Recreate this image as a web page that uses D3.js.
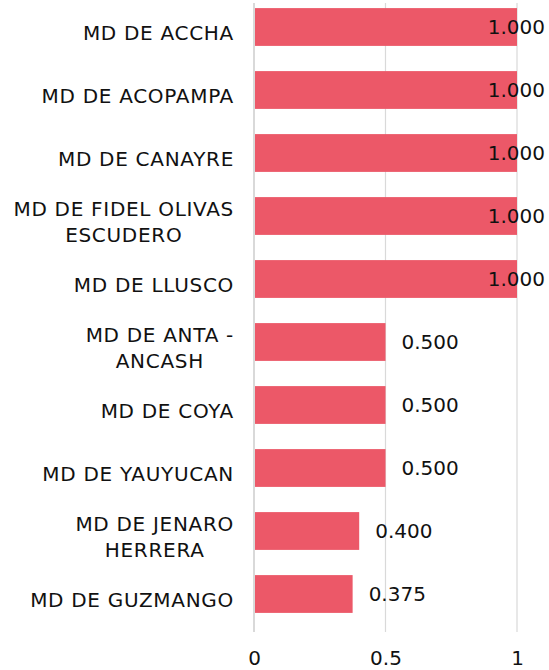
<!DOCTYPE html>
<html>
<head>
<meta charset="utf-8">
<script src="https://cdn.jsdelivr.net/npm/d3@7"></script>
<style>
  html, body { margin: 0; padding: 0; background: #fff; }
  svg { display: block; }
  text { font-family: "DejaVu Sans", "Noto Sans", sans-serif; fill: #111; }
</style>
</head>
<body>
<svg id="chart" width="549" height="670"></svg>
<script>
// Municipal districts and their scores
const categories = [
  "MD DE ACCHA",
  "MD DE ACOPAMPA",
  "MD DE CANAYRE",
  "MD DE FIDEL OLIVAS ESCUDERO",
  "MD DE LLUSCO",
  "MD DE ANTA - ANCASH",
  "MD DE COYA",
  "MD DE YAUYUCAN",
  "MD DE JENARO HERRERA",
  "MD DE GUZMANGO"
];
const values = [1.0, 1.0, 1.0, 1.0, 1.0, 0.5, 0.5, 0.5, 0.4, 0.375];
const tickValues = [0, 0.5, 1];

const W = 549, H = 670;
const svg = d3.select("#chart");

const x = d3.scaleLinear().domain([0, 1]).range([254, 517]);
const y = d3.scaleBand()
  .domain(categories)
  .range([-4.5, 625.5])
  .paddingInner(0.4)
  .paddingOuter(0.2);

const fontSize = 20;
const fontFamily = "'DejaVu Sans', 'Noto Sans', sans-serif";

// vertical gridlines
svg.append("g")
  .selectAll("line")
  .data(tickValues)
  .join("line")
  .attr("x1", d => x(d))
  .attr("x2", d => x(d))
  .attr("y1", 3)
  .attr("y2", 632)
  .attr("stroke", "#d9d9d9")
  .attr("stroke-width", d => d === 0 ? 2 : 1.2);

// bars
svg.append("g")
  .selectAll("rect")
  .data(categories)
  .join("rect")
  .attr("x", x(0) + 1)
  .attr("y", d => y(d))
  .attr("width", (d, i) => x(values[i]) - x(0) - 1)
  .attr("height", y.bandwidth())
  .attr("fill", "#ec5868");

// x axis tick labels
const xAxis = d3.axisBottom(x)
  .tickValues(tickValues)
  .tickFormat(d3.format("~g"))
  .tickSize(0)
  .tickPadding(0);
const gx = svg.append("g")
  .attr("transform", "translate(0,651)")
  .call(xAxis);
gx.select(".domain").remove();
gx.selectAll("text")
  .attr("dy", "0.71em")
  .style("font-family", fontFamily)
  .style("font-size", fontSize + "px")
  .attr("fill", "#111");

// category labels: wrapped to fit the left margin, lines centred,
// block aligned against the axis
const labelRight = 234;
const maxLabel = 230;
const lineH = 25.5;
const labels = svg.append("g")
  .selectAll("text")
  .data(categories)
  .join("text")
  .attr("text-anchor", "middle")
  .style("font-size", fontSize + "px")
  .style("letter-spacing", "0.7px");

labels.each(function(d) {
  const t = d3.select(this);
  const words = d.split(" ");
  const lines = [];
  let cur = [];
  const probe = t.append("tspan");
  const measure = s => { probe.text(s); return probe.node().getComputedTextLength(); };
  words.forEach(w => {
    const trial = cur.concat(w).join(" ");
    if (measure(trial) > maxLabel && cur.length) {
      lines.push(cur.join(" "));
      cur = [w];
    } else {
      cur.push(w);
    }
  });
  lines.push(cur.join(" "));
  const blockW = d3.max(lines, measure);
  probe.remove();
  const cx = labelRight - blockW / 2;
  const cy = y(d) + y.bandwidth() / 2 + 6;
  const first = cy - (lines.length - 1) * lineH / 2;
  lines.forEach((ln, i) => {
    t.append("tspan")
      .attr("x", cx)
      .attr("y", first + i * lineH)
      .attr("dy", "0.36em")
      .text(ln);
  });
});

// value labels, kept inside the drawing area
const fmt = d3.format(".3f");
svg.append("g")
  .selectAll("text")
  .data(categories)
  .join("text")
  .style("font-size", fontSize + "px")
  .attr("y", d => y(d) + y.bandwidth() / 2)
  .attr("dy", "0.36em")
  .text((d, i) => fmt(values[i]))
  .each(function(d, i) {
    const w = this.getComputedTextLength();
    const px = Math.min(x(values[i]) + 16, W - 4 - w);
    d3.select(this).attr("x", px);
  });
</script>
</body>
</html>
